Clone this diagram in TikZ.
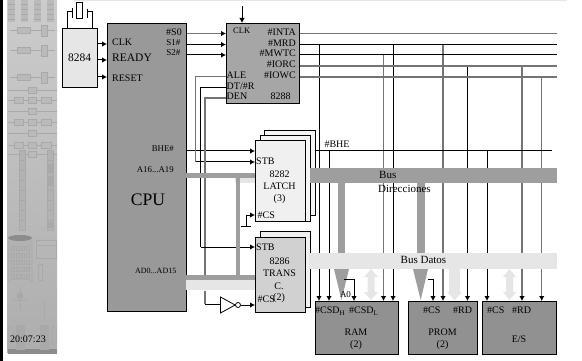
\documentclass[tikz,border=0pt]{standalone}
\usepackage{fontspec}
\setmainfont{Liberation Serif}
\usetikzlibrary{arrows.meta}
\definecolor{wireg}{HTML}{747474}
\definecolor{busd}{HTML}{9E9E9E}
\definecolor{busl}{HTML}{E6E6E6}
\definecolor{stripc}{HTML}{BABABA}
\definecolor{stripd}{HTML}{A9A9A9}
\definecolor{stripm}{HTML}{B2B2B2}
\newcommand{\fsz}[1]{\fontsize{#1}{#1}\selectfont}
\tikzset{
  box/.style={draw=black,line width=1pt,rectangle,anchor=north west,inner sep=0pt},
  lab/.style={inner sep=0pt,font=\fsz{10}},
  lw/.style={lab,anchor=west},
  le/.style={lab,anchor=east},
  bw/.style={draw=black,line width=1pt},
  gw/.style={draw=wireg,line width=1.4pt},
  tip/.style={-{Latex[length=5pt,width=5.5pt,black]}},
  det/.style={draw=stripd,line width=.5pt},
}
\begin{document}
\begin{tikzpicture}[x=1pt,y=-1pt]
\useasboundingbox (0,0) rectangle (582,361);
\fill[white] (0,0) rectangle (582,361);
\fill[busl] (74,0) rectangle (567,1);
% left strip
\fill[black] (0,0) rectangle (2.6,361);
\shade[top color=black!20,bottom color=black!32] (7,0) rectangle (57,352);
\fill[black!45] (8,349) rectangle (57,354);
\foreach \x in {8,21,34,47}{
  \fill[stripc] (\x,0) rectangle ++(7,22);
  \foreach \y in {4,9,14,19}{\draw[det,line width=.4pt] (\x,\y) -- ++(7,0);}
}
\foreach \y in {30,50,77}{
  \draw[det] (10,\y) -- (55,\y);
  \draw[det,fill=stripc] (17,\y-3) rectangle ++(13,6);
  \draw[det,fill=stripc] (41,\y-5) rectangle ++(6,11);
}
\foreach \y in {90,100,111,122,133,145,154}{
  \draw[det] (8,\y) -- (57,\y);
  \draw[det,fill=stripc] (28,\y-3) rectangle ++(8,6);
}
\foreach \y in {100,122,145}{
  \draw[det,fill=stripc] (14,\y-3) rectangle ++(9,6);
  \draw[det,fill=stripc] (41,\y-3) rectangle ++(10,6);
}
\draw[det,fill=stripm] (19,150) rectangle (25,230);
\draw[det,fill=stripm] (47,150) rectangle (53,230);
\foreach \y in {160,170,180,190,200,210,220}{
  \draw[det] (19,\y) -- (25,\y);\draw[det] (47,\y) -- (53,\y);}
\fill[stripd] (47,164) rectangle (53,173);
\fill[stripd] (47,176) rectangle (53,186);
\fill[stripd] (47,222) rectangle (53,228);
% cylinder
\draw[det,fill=stripm] (8,240) -- (8,282) arc[start angle=180,end angle=360,x radius=12,y radius=3] -- (32,240);
\fill[black!45] (20,238) ellipse[x radius=12,y radius=3];
\foreach \y in {246,253,260,267,274}{
  \foreach \x in {11,16,21,26}{\draw[det] (\x,\y) rectangle ++(3.5,4);}
}
\draw[det] (36,240) rectangle (56,258);
\draw[det] (36,245) -- (56,245);
\draw[det] (38,264) rectangle (42,280);
\draw[det] (20,287) -- (20,310) (13,300) -- (27,300);
\draw[det,fill=stripd] (20,296) circle (3);
\draw[det] (44,300) -- (44,322);
\draw[det,fill=stripd] (16,325) rectangle (24,349);
\draw[det,fill=stripd] (40,325) rectangle (48,349);
\draw[det] (8,326) rectangle (13,342) (52,326) rectangle (56,342);
% blocks behind
\node[box,fill=busl!40!white,minimum width=51pt,minimum height=85pt] (lat3) at (264,130) {};
\node[box,fill=busl!40!white,minimum width=50pt,minimum height=86pt] (lat2) at (260,135) {};
\node[box,fill=busl!60!white,minimum width=50pt,minimum height=76pt] (tr2) at (260,231) {};
% wires
\coordinate (top) at (242,6);
\coordinate (rr) at (557,0);
\node[box,fill=busl,minimum width=35pt,minimum height=59pt] (k84) at (62,28) {};
\node[box,fill=black!40,minimum width=79pt,minimum height=288pt] (cpu) at (107,23) {};
\node[box,fill=black!35,minimum width=73pt,minimum height=80pt] (g88) at (226,23) {};
\node[box,fill=black!43,minimum width=83pt,minimum height=53pt] (ram) at (315,301) {};
\node[box,fill=black!43,minimum width=69pt,minimum height=53pt] (prom) at (408,301) {};
\node[box,fill=black!43,minimum width=74pt,minimum height=53pt] (es) at (482,301) {};
% verticals (under the buses)
\coordinate (bheR) at (552,151);
\foreach \x/\ya/\st/\tg in {319/44.5/bw/ram,329/151/bw/ram,383.5/55/gw/ram,393/44.5/bw/ram,443/44.5/gw/prom,467.5/66/bw/prom,487/151/bw/es,522/66/gw/es,541.7/77/gw/es}{
  \draw[\st,tip] (\x,\ya) -- (\x,301);
}
% horizontals 8288 out
\foreach \y/\st in {33.5/gw,44.5/bw,55/bw,66/gw,77/gw}{
  \draw[\st] (g88.east |- 0,\y) -- (rr |- 0,\y);
}
% 8284 to CPU
\foreach \y in {44,60,77}{\draw[bw,tip] (k84.east |- 0,\y) -- (cpu.west |- 0,\y);}
% crystal
\node[draw=black,line width=.8pt,inner sep=0pt,minimum width=6pt,minimum height=16pt] (xt) at (79,10) {};
\coordinate (p1) at (72.5,12);
\coordinate (p2) at (87,12);
\draw[bw] (67,28) -- (67,12) -- (p1);
\draw[bw] (92,28) -- (92,12) -- (p2);
\draw[bw] (72.5,8) -- (72.5,18);
\draw[bw] (87,9) -- (87,18);
% CPU to 8288
\draw[gw,tip] (cpu.east |- 0,33.5) -- (g88.west |- 0,33.5);
\draw[bw,tip] (cpu.east |- 0,44.5) -- (g88.west |- 0,44.5);
\draw[bw,tip] (cpu.east |- 0,55) -- (g88.west |- 0,55);
\draw[bw,tip] (top) -- (g88.north -| top);
% front latch and arrows
\draw[bw,tip] (cpu.east |- 0,151) -- (255,151);
\draw[gw] (g88.west |- 0,76.5) -- (195.7,76.5) -- (195.7,162);
\draw[bw,tip] (195.7,162) -- (255,162);
\draw[gw] (g88.west |- 0,98) -- (205,98) -- (205,280);
\draw[bw] (g88.west |- 0,87.5) -- (200.7,87.5) -- (200.7,247);
\draw[bw,tip] (200.7,247) -- (255,247);
\draw[bw] (315,151) -- (bheR);
% bus thick tap arrows
\fill[busd] (338,183) rectangle (345,269);
\fill[busd] (334,269) -- (349,269) -- (341.5,300) -- cycle;
\fill[busd] (417,183) rectangle (424.5,269);
\fill[busd] (413,269) -- (428,269) -- (420.7,300) -- cycle;
% buses
\node[rectangle,fill=busd,inner sep=0pt,anchor=north west,minimum width=247pt,minimum height=15pt] (addr) at (310,168) {};
\node[rectangle,fill=busl,inner sep=0pt,anchor=north west,minimum width=248pt,minimum height=16pt] (data) at (309,253) {};
% CPU-side bus stubs
\fill[busd] (186,173) rectangle (255,178);
\fill[busl] (235,178) rectangle (255,183);
\fill[busd] (236,178) rectangle (240,274.5);
\fill[busd] (186,274.5) rectangle (255,280);
\fill[busl] (186,280) rectangle (255,290);
\draw[gw] (205,291) -- (205,304);
\draw[bw] (205,304) -- (220,304);
% light data arrows
\fill[busl] (371,269) -- (378,277) -- (374.5,277) -- (374.5,292) -- (378,292) -- (371,300) -- (364,292) -- (367.5,292) -- (367.5,277) -- (364,277) -- cycle;
\fill[busl] (449,269) rectangle (460,292);
\fill[busl] (447,292) -- (462,292) -- (454.7,300) -- cycle;
\fill[busl] (509.5,269) -- (516,277) -- (513,277) -- (513,292) -- (516,292) -- (509.5,300) -- (503,292) -- (506,292) -- (506,277) -- (503,277) -- cycle;
% front blocks
\node[box,fill=busl!60!white,minimum width=50pt,minimum height=81pt] (lat1) at (255,140) {};
\node[box,fill=black!18,minimum width=50pt,minimum height=75pt] (tr1) at (255,237) {};
% #CS tie
\coordinate (gnd) at (246,226);
\draw[bw,tip] (gnd) -- (246,215) -- (lat1.west |- 0,215);
\draw[bw] (240.5,226) -- (250.5,226);
% inverter
\node[draw=black,line width=.8pt,circle,inner sep=0pt,minimum size=5pt] (bub) at (238,305) {};
\coordinate (ia) at (220.5,297);
\coordinate (ib) at (220.5,313);
\draw[line width=.8pt,fill=white] (ia) -- (bub.west) -- (ib) -- cycle;
\draw[bw,tip] (bub.east) -- (tr1.west |- bub);
% A0 steps
\draw[draw=black,line width=.8pt,tip] (344,279.5) -- (354,279.5) -- (354,301);
\draw[draw=black,line width=.8pt,tip] (428,279.5) -- (433,279.5) -- (433,301);
% texts
\node[lab,font=\fsz{11.5}] (t1) at (79.5,58) {8284};
\node[lw] (t2) at (112,42) {CLK};
\node[lw,font=\fsz{11.5}] (t3) at (112,58) {READY};
\node[lw] (t4) at (112,78.5) {RESET};
\node[le] (t5) at (182,32.5) {\#S0};
\node[le,font=\fsz{9}] (t6) at (180.5,43) {S1\#};
\node[le,font=\fsz{9}] (t7) at (180.5,53) {S2\#};
\node[le,font=\fsz{8.8}] (t8) at (174,149) {BHE\#};
\node[le,font=\fsz{8.8}] (t9) at (174,170) {A16...A19};
\node[lab,font=\fsz{17.6}] (t10) at (148,200) {CPU};
\node[le,font=\fsz{8}] (t11) at (176.5,271) {AD0...AD15};
\node[lw,font=\fsz{8.5}] (t12) at (233,31) {CLK};
\node[le] (t13) at (296,32.5) {\#INTA};
\node[le] (t14) at (296,43.5) {\#MRD};
\node[le] (t15) at (296,53.5) {\#MWTC};
\node[le] (t16) at (296,64.5) {\#IORC};
\node[le] (t17) at (296,75.5) {\#IOWC};
\node[lw] (t18) at (226.5,75.5) {ALE};
\node[lw] (t19) at (226.5,86) {DT/\#R};
\node[lw] (t20) at (226.5,96.5) {DEN};
\node[lab] (t21) at (280.5,96.5) {8288};
\node[lab] (t22) at (337,144.5) {\#BHE};
\node[lw] (t23) at (256,161) {STB};
\node[lab] (t24) at (279.5,174) {8282};
\node[lab] (t25) at (279.5,186.5) {LATCH};
\node[lab] (t26) at (279.5,199) {(3)};
\node[lw] (t27) at (257.5,215) {\#CS};
\node[lw] (t28) at (256,247) {STB};
\node[lab] (t29) at (279.5,261.5) {8286};
\node[lab] (t30) at (279.5,273.5) {TRANS};
\node[lab] (t31) at (279,286.5) {C.};
\node[lw] (t32) at (257.5,299) {\#CS};
\node[lab] (t33) at (279,298.5) {(2)};
\node[lw,font=\fsz{11}] (t34) at (379,175) {Bus};
\node[lw,font=\fsz{11}] (t35) at (378,189) {Direcciones};
\node[lab,font=\fsz{11}] (t36) at (423.5,260) {Bus Datos};
\node[lab,font=\fsz{9}] (t37) at (345.5,294.5) {A0};
\node[lw] (t38) at (315,311) {\#CSD\textsubscript{H}};
\node[lw] (t39) at (349,311) {\#CSD\textsubscript{L}};
\node[lab] (t40) at (356,332.5) {RAM};
\node[lab] (t41) at (356,345) {(2)};
\node[lw] (t42) at (423,310.5) {\#CS};
\node[lw] (t43) at (453,310.5) {\#RD};
\node[lab] (t44) at (442.5,332.5) {PROM};
\node[lab] (t45) at (442.5,345) {(2)};
\node[lw] (t46) at (487,310.5) {\#CS};
\node[lw] (t47) at (512,310.5) {\#RD};
\node[lab] (t48) at (519,339) {E/S};
\node[lw] (t49) at (10,339.5) {20:07:23};
\end{tikzpicture}
\end{document}
